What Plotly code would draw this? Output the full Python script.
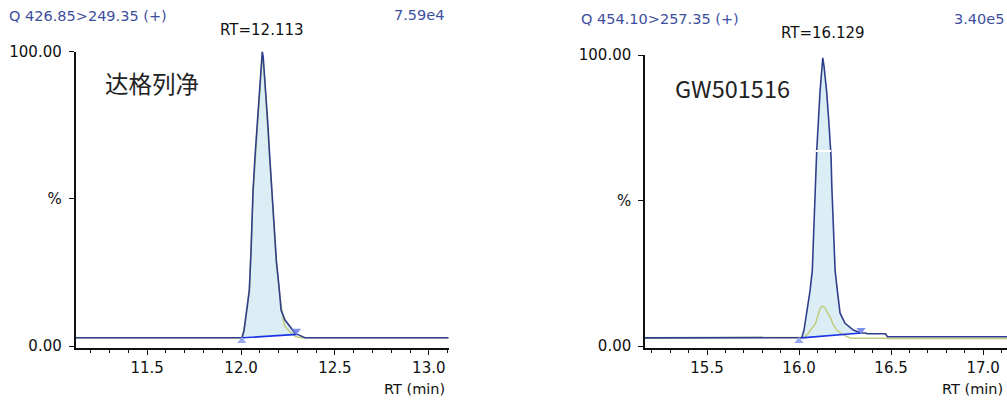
import plotly.graph_objects as go

W, H = 1007, 401

# ---- Dapagliflozin channel: Q 426.85>249.35 (+) ----
left_rt = [11.10, 11.95, 12.005, 12.015, 12.022, 12.030, 12.044, 12.053, 12.064, 12.075,
           12.087, 12.095, 12.103, 12.108, 12.113, 12.118, 12.124, 12.133, 12.142, 12.152,
           12.163, 12.175, 12.188, 12.204, 12.213, 12.234, 12.261, 12.288, 12.300, 12.314,
           12.340, 13.11]
left_int = [2.8, 2.8, 2.8, 5.0, 8.0, 13.0, 19.0, 32.0, 53.0, 65.0,
            76.0, 85.0, 93.0, 97.5, 100.0, 98.0, 93.0, 85.0, 76.0, 65.0,
            53.0, 41.0, 29.0, 19.0, 12.2, 8.8, 6.5, 4.3, 3.95, 3.5,
            2.8, 2.8]
left_qual_rt = [11.10, 11.95, 12.005, 12.022, 12.044, 12.064, 12.087, 12.103, 12.113, 12.124,
                12.142, 12.163, 12.188, 12.204, 12.230, 12.260, 12.290, 12.320, 13.11]
left_qual = [2.8, 2.8, 2.8, 7.5, 18.5, 52.0, 75.0, 92.0, 99.0, 92.0,
             75.0, 52.0, 28.0, 18.0, 7.0, 4.8, 3.2, 2.8, 2.8]
left_base = [(12.0095, 2.8), (12.298, 3.95)]
left_start_mark = (12.004, 1.7)
left_end_mark = (12.295, 5.2)
left_apex = (12.113, 101.5)

# ---- GW501516 channel: Q 454.10>257.35 (+) ----
right_rt = [15.16, 15.99, 16.015, 16.027, 16.042, 16.060, 16.072, 16.080, 16.090, 16.096,
            16.114, 16.122, 16.129, 16.136, 16.150, 16.162, 16.174, 16.178, 16.186, 16.196,
            16.208, 16.223, 16.250, 16.295, 16.320, 16.340, 16.360, 16.370, 16.470, 16.480,
            17.13]
right_int = [2.8, 2.8, 2.9, 5.5, 11.3, 19.1, 25.9, 38.0, 58.0, 67.0,
             87.4, 95.0, 99.0, 96.0, 87.4, 77.0, 65.0, 55.0, 40.0, 25.9,
             19.1, 11.3, 7.8, 5.5, 4.9, 4.5, 4.5, 4.2, 4.2, 3.2,
             3.2]
right_qual_rt = [15.16, 15.99, 16.030, 16.050, 16.070, 16.090, 16.105, 16.115, 16.127, 16.140,
                 16.155, 16.168, 16.185, 16.205, 16.230, 16.260, 16.280, 16.470, 16.480, 17.13]
right_qual = [2.8, 2.8, 3.0, 4.4, 6.0, 7.8, 11.0, 13.0, 13.7, 13.2,
              11.5, 10.0, 7.5, 5.5, 4.2, 3.4, 2.7, 2.7, 2.6, 2.6]
right_base = [(16.015, 2.8), (16.337, 4.5)]
right_start_mark = (16.0, 1.7)
right_end_mark = (16.337, 5.5)
right_apex = (16.129, 101.7)
right_gap = [(16.092, 67.0), (16.174, 67.0)]

panels = [
    dict(rt=left_rt, y=left_int, qrt=left_qual_rt, q=left_qual, base=left_base,
         s=left_start_mark, e=left_end_mark, apex=left_apex,
         xr=[11.118, 13.105], dom=[75.5, 448.5], top=51.5,
         chan="Q 426.85>249.35 (+)", scale="7.59e4", rt_lab="RT=12.113", name="达格列净",
         name_xy=(103, 83), chan_xy=(7, 16), scale_xy=(446, 15), rt_y=30),
    dict(rt=right_rt, y=right_int, qrt=right_qual_rt, q=right_qual, base=right_base,
         s=right_start_mark, e=right_end_mark, apex=right_apex,
         xr=[15.163, 17.130], dom=[645, 1007], top=55,
         chan="Q 454.10>257.35 (+)", scale="3.40e5", rt_lab="RT=16.129", name="GW501516",
         name_xy=(673, 88), chan_xy=(579, 19), scale_xy=(1006, 19), rt_y=33),
]

NAVY = "#2f3f8c"
FILL = "#dbeef5"
QUAL = "#c2cc7e"
BASE = "#1a33e6"
MARK = "#7f8ff0"
HEAD = "#3d4e9e"
FONT = "DejaVu Sans"
BIG = "Noto Sans CJK SC, Noto Sans"


def px(x):
    return x / W


def py(y):
    return 1 - y / H


fig = go.Figure()
annotations = []
shapes = []

for i, p in enumerate(panels):
    sfx = "" if i == 0 else str(i + 1)
    xa, ya = "x" + sfx, "y" + sfx

    # integrated area: trace between the integration limits, closed along the baseline
    (x0, b0), (x1, b1) = p["base"]
    poly_x = [x0] + [r for r in p["rt"] if x0 < r < x1] + [x1]
    poly_y = [b0]
    for r, v in zip(p["rt"], p["y"]):
        if x0 < r < x1:
            poly_y.append(v)
    poly_y.append(b1)
    poly_x += [x0]
    poly_y += [b0]
    fig.add_trace(go.Scatter(x=poly_x, y=poly_y, mode="lines", fill="toself",
                             fillcolor=FILL, line=dict(width=0), hoverinfo="skip",
                             xaxis=xa, yaxis=ya, showlegend=False))
    # qualifier ion trace
    fig.add_trace(go.Scatter(x=p["qrt"], y=p["q"], mode="lines",
                             line=dict(color=QUAL, width=1.5), xaxis=xa, yaxis=ya,
                             showlegend=False))
    # quantifier ion trace
    fig.add_trace(go.Scatter(x=p["rt"], y=p["y"], mode="lines",
                             line=dict(color=NAVY, width=1.6), xaxis=xa, yaxis=ya,
                             showlegend=False))
    # integration baseline
    fig.add_trace(go.Scatter(x=[x0, x1], y=[b0, b1], mode="lines",
                             line=dict(color=BASE, width=1.6), xaxis=xa, yaxis=ya,
                             showlegend=False))
    # integration start / end and apex markers
    fig.add_trace(go.Scatter(x=[p["s"][0]], y=[p["s"][1]], mode="markers",
                             marker=dict(symbol="triangle-up", size=8, color="#9aa8f2"),
                             xaxis=xa, yaxis=ya, showlegend=False, cliponaxis=False))
    fig.add_trace(go.Scatter(x=[p["e"][0]], y=[p["e"][1]], mode="markers",
                             marker=dict(symbol="triangle-down", size=8, color=MARK),
                             xaxis=xa, yaxis=ya, showlegend=False, cliponaxis=False))
    fig.add_trace(go.Scatter(x=[p["apex"][0]], y=[p["apex"][1]], mode="markers",
                             marker=dict(symbol="triangle-down", size=6, color="#1f2b6b"),
                             xaxis=xa, yaxis=ya, showlegend=False, cliponaxis=False))

    dom_x = [px(p["dom"][0]), min(1.0, px(p["dom"][1]))]
    dom_y = [py(347.5), py(p["top"])]
    tick_font = dict(family=FONT, size=15, color="#111111")
    fig.update_layout(**{
        "xaxis" + sfx: dict(domain=dom_x, range=p["xr"], anchor=ya,
                            showgrid=False, zeroline=False, showline=True,
                            linecolor="#111111", linewidth=1.5,
                            ticks="outside", ticklen=6, tickwidth=1.3, tickcolor="#111111",
                            tick0=0, dtick=0.5, tickformat=".1f", tickfont=tick_font,
                            ticklabelstandoff=0,
                            minor=dict(ticks="outside", ticklen=3.5, tickwidth=1.3,
                                       tickcolor="#111111", dtick=0.1, tick0=0,
                                       showgrid=False)),
        "yaxis" + sfx: dict(domain=dom_y, range=[-0.5, 100], anchor=xa,
                            showgrid=False, zeroline=False, showline=True,
                            linecolor="#111111", linewidth=1.5,
                            ticks="outside", ticklen=5, tickwidth=1.3, tickcolor="#111111",
                            tickvals=[0, 50, 100], ticktext=["0.00", "%", "100.00"],
                            tickfont=tick_font, ticklabelstandoff=4),
    })

    # header and labels
    annotations += [
        dict(text=p["chan"], x=px(p["chan_xy"][0]), y=py(p["chan_xy"][1]), xref="paper",
             yref="paper", xanchor="left", yanchor="middle", showarrow=False,
             font=dict(family=FONT, size=14.5, color=HEAD)),
        dict(text=p["scale"], x=px(p["scale_xy"][0]), y=py(p["scale_xy"][1]), xref="paper",
             yref="paper", xanchor="right", yanchor="middle", showarrow=False,
             font=dict(family=FONT, size=14.5, color=HEAD)),
        dict(text=p["rt_lab"], x=p["apex"][0], y=py(p["rt_y"]), xref=xa, yref="paper",
             xanchor="center", yanchor="middle", showarrow=False,
             font=dict(family=FONT, size=15, color="#111111")),
        dict(text=p["name"], x=px(p["name_xy"][0]), y=py(p["name_xy"][1]), xref="paper",
             yref="paper", xanchor="left", yanchor="middle", showarrow=False,
             font=dict(family=BIG, size=23.5, color="#222222")),
        dict(text="RT (min)", x=min(1.0, px(p["dom"][1] - 2)), y=py(389), xref="paper",
             yref="paper", xanchor="right", yanchor="middle", showarrow=False,
             font=dict(family=FONT, size=14.5, color="#111111")),
    ]

# white gap across the GW501516 peak
shapes.append(dict(type="line", xref="x2", yref="y2",
                   x0=right_gap[0][0], y0=right_gap[0][1],
                   x1=right_gap[1][0], y1=right_gap[1][1],
                   line=dict(color="white", width=2)))

fig.update_layout(width=W, height=H, margin=dict(l=0, r=0, t=0, b=0, autoexpand=False),
                  paper_bgcolor="white", plot_bgcolor="white",
                  annotations=annotations, shapes=shapes, showlegend=False)

fig.write_html("out.html")
